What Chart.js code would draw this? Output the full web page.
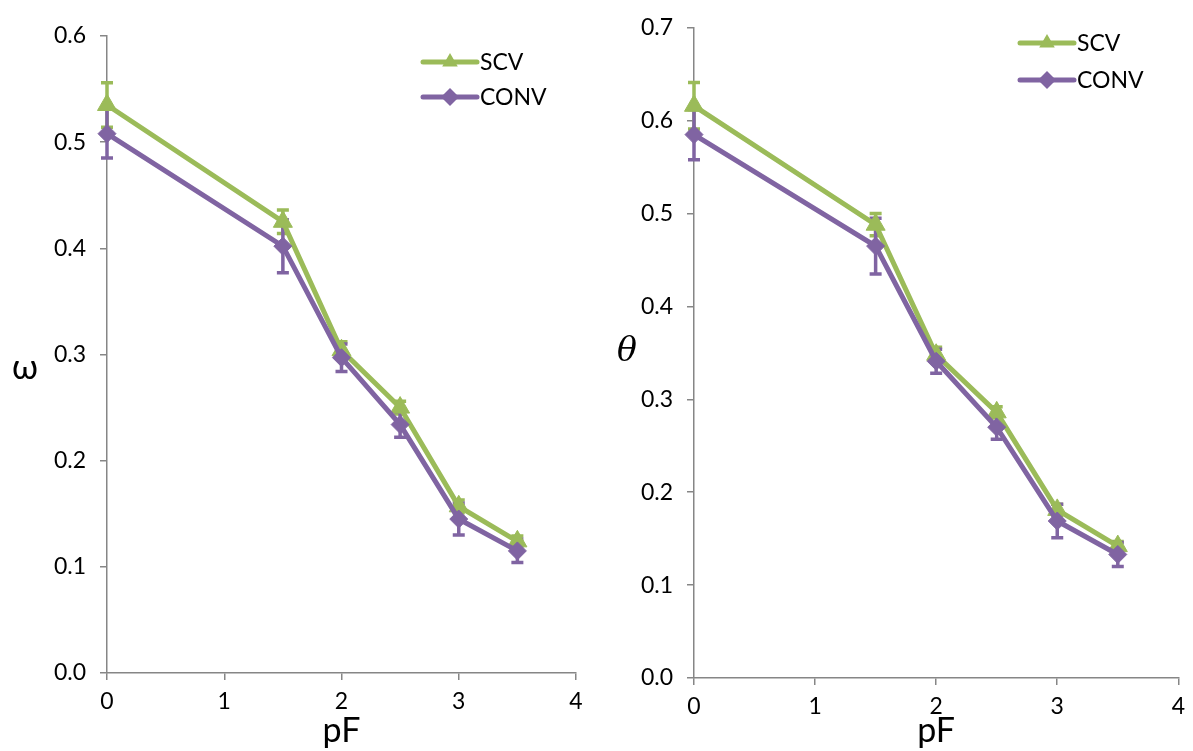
<!DOCTYPE html>
<html>
<head>
<meta charset="utf-8">
<script src="https://cdn.jsdelivr.net/npm/chart.js@4.4.1/dist/chart.umd.min.js"></script>
<style>
body { margin: 0; background: #fff; }
#wrap { position: relative; width: 1193px; height: 751px; }
.box { position: absolute; top: 0; }
</style>
</head>
<body>
<div id="wrap">
  <div class="box" style="left:0"><canvas id="omegaChart" width="596" height="751"></canvas></div>
  <div class="box" style="left:596px"><canvas id="thetaChart" width="597" height="751"></canvas></div>
</div>
<script>
// values
var pF = [0, 1.5, 2, 2.5, 3, 3.5];
var seriesNames = ['SCV', 'CONV'];

var omegaSCV     = [0.535, 0.425, 0.304, 0.250, 0.157, 0.124];
var omegaSCVErr  = [0.021, 0.011, 0.008, 0.006, 0.006, 0.005];
var omegaCONV    = [0.508, 0.402, 0.297, 0.234, 0.145, 0.115];
var omegaCONVErr = [0.023, 0.025, 0.013, 0.012, 0.015, 0.011];

var thetaSCV     = [0.616, 0.488, 0.348, 0.286, 0.181, 0.142];
var thetaSCVErr  = [0.025, 0.012, 0.008, 0.006, 0.006, 0.005];
var thetaCONV    = [0.585, 0.465, 0.341, 0.270, 0.169, 0.133];
var thetaCONVErr = [0.027, 0.030, 0.013, 0.013, 0.018, 0.013];

var GREEN = '#9BBB59';
var PURPLE = '#8064A2';
var AXIS = '#868686';
var FONT = 'Lato, "Noto Sans", sans-serif';

function toPoints(ys) {
    return pF.map(function(x, i) { return { x: x, y: ys[i] }; });
}

// error bars, drawn under the lines and markers
var errorBarPlugin = {
    id: 'errorBars',
    beforeDatasetsDraw: function(chart) {
        var ctx = chart.ctx, xs = chart.scales.x, ys = chart.scales.y;
        chart.data.datasets.forEach(function(ds) {
            ctx.save();
            ctx.strokeStyle = ds.borderColor;
            ctx.lineWidth = 3.5;
            ds.data.forEach(function(p, i) {
                var e = ds.errors[i];
                var px = xs.getPixelForValue(p.x);
                var top = ys.getPixelForValue(p.y + e);
                var bot = ys.getPixelForValue(p.y - e);
                ctx.beginPath();
                ctx.moveTo(px, top); ctx.lineTo(px, bot);
                ctx.moveTo(px - 6, top); ctx.lineTo(px + 6, top);
                ctx.moveTo(px - 6, bot); ctx.lineTo(px + 6, bot);
                ctx.stroke();
            });
            ctx.restore();
        });
    }
};

function marker(ctx, style, x, y, r) {
    ctx.beginPath();
    if (style === 'triangle') {
        ctx.moveTo(x, y - r);
        ctx.lineTo(x + r * 0.866, y + r / 2);
        ctx.lineTo(x - r * 0.866, y + r / 2);
    } else {
        ctx.moveTo(x, y - r);
        ctx.lineTo(x + r, y);
        ctx.lineTo(x, y + r);
        ctx.lineTo(x - r, y);
    }
    ctx.closePath();
    ctx.fill();
}

// legend inside the plot + the upright y-axis symbol
var decorPlugin = {
    id: 'decor',
    afterDraw: function(chart, args, opts) {
        var ctx = chart.ctx;
        ctx.save();
        chart.data.datasets.forEach(function(ds, i) {
            var y = opts.legendY + i * opts.legendGap;
            ctx.strokeStyle = ds.borderColor;
            ctx.fillStyle = ds.borderColor;
            ctx.lineWidth = 5;
            ctx.lineCap = 'round';
            ctx.beginPath();
            ctx.moveTo(opts.legendX, y);
            ctx.lineTo(opts.legendX + 54, y);
            ctx.stroke();
            marker(ctx, ds.pointStyle, opts.legendX + 27, y, 9);
            ctx.fillStyle = '#000';
            ctx.font = '23px ' + FONT;
            ctx.textBaseline = 'middle';
            ctx.textAlign = 'left';
            ctx.fillText(ds.label, opts.legendX + 57, y + 1);
        });
        ctx.font = opts.symbolFont;
        ctx.fillStyle = '#000';
        ctx.textAlign = 'center';
        ctx.textBaseline = 'middle';
        ctx.fillText(opts.symbol, opts.symbolX, opts.symbolY);
        ctx.restore();
    }
};

function makeChart(id, scv, scvErr, conv, convErr, yMax, box, decor) {
    var ctx = document.getElementById(id).getContext('2d');
    return new Chart(ctx, {
        type: 'line',
        data: {
            datasets: [{
                label: seriesNames[0],
                data: toPoints(scv),
                errors: scvErr,
                borderColor: GREEN,
                backgroundColor: GREEN,
                borderWidth: 5,
                pointStyle: 'triangle',
                pointRadius: 11,
                pointBorderWidth: 1,
                clip: false,
                order: 1
            }, {
                label: seriesNames[1],
                data: toPoints(conv),
                errors: convErr,
                borderColor: PURPLE,
                backgroundColor: PURPLE,
                borderWidth: 5,
                pointStyle: 'rectRot',
                pointRadius: 9,
                pointBorderWidth: 1,
                clip: false,
                order: 0
            }]
        },
        options: {
            responsive: false,
            animation: false,
            layout: { padding: { top: box.top, right: box.right, left: 0, bottom: 0 } },
            plugins: {
                legend: { display: false },
                tooltip: { enabled: false },
                decor: decor
            },
            scales: {
                x: {
                    type: 'linear',
                    min: 0, max: 4,
                    ticks: { stepSize: 1, color: '#000', font: { size: 23, family: FONT }, padding: 8 },
                    grid: { drawOnChartArea: false, tickLength: 7, color: AXIS, lineWidth: 1.5 },
                    border: { color: AXIS, width: 1.5 },
                    title: { display: true, text: 'pF', color: '#000', font: { size: 34, family: FONT }, padding: 0 },
                    afterFit: function(s) { s.height = box.xHeight; }
                },
                y: {
                    min: 0, max: yMax,
                    ticks: {
                        stepSize: 0.1, color: '#000', font: { size: 23, family: FONT }, padding: 14,
                        callback: function(v) { return v.toFixed(1); }
                    },
                    grid: { drawOnChartArea: false, tickLength: 7, color: AXIS, lineWidth: 1.5 },
                    border: { color: AXIS, width: 1.5 },
                    afterFit: function(s) { s.width = box.yWidth; }
                }
            }
        },
        plugins: [errorBarPlugin, decorPlugin]
    });
}

makeChart('omegaChart', omegaSCV, omegaSCVErr, omegaCONV, omegaCONVErr, 0.6,
    { top: 36, right: 20, yWidth: 107, xHeight: 78 },
    { legendX: 423, legendY: 62, legendGap: 35, symbol: 'ω', symbolFont: '34px ' + FONT, symbolX: 25, symbolY: 368 });

makeChart('thetaChart', thetaSCV, thetaSCVErr, thetaCONV, thetaCONVErr, 0.7,
    { top: 22, right: 13, yWidth: 98, xHeight: 73 },
    { legendX: 424, legendY: 43, legendGap: 37, symbol: 'θ', symbolFont: 'italic 33px "DejaVu Serif", serif', symbolX: 31, symbolY: 352 });
</script>
</body>
</html>
